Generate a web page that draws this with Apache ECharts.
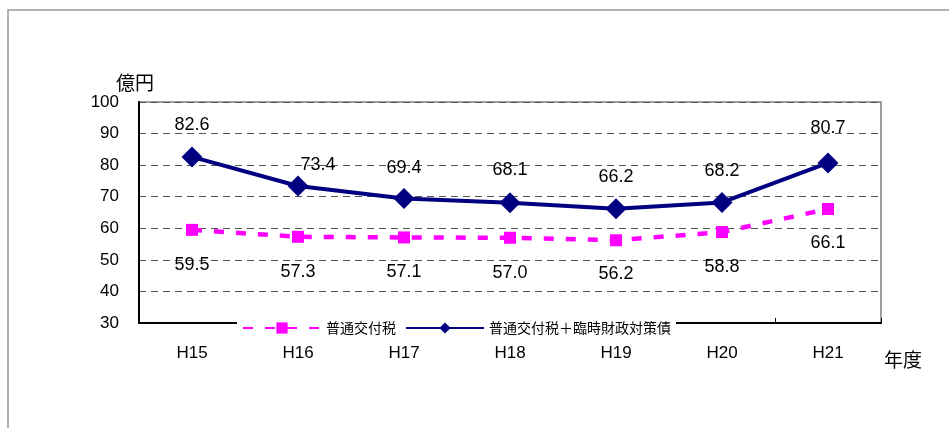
<!DOCTYPE html>
<html>
<head>
<meta charset="utf-8">
<script src="https://cdn.jsdelivr.net/npm/echarts@6/dist/echarts.min.js"></script>
<style>
html,body{margin:0;padding:0;background:#fff;}
#c{width:949px;height:428px;}
</style>
</head>
<body>
<div id="c"></div>
<script>
var categories = ['H15','H16','H17','H18','H19','H20','H21'];
var futsuu = [59.5, 57.3, 57.1, 57.0, 56.2, 58.8, 66.1];
var total = [82.6, 73.4, 69.4, 68.1, 66.2, 68.2, 80.7];
var seriesNames = ['普通交付税', '普通交付税＋臨時財政対策債'];
var yTicks = [30, 40, 50, 60, 70, 80, 90, 100];

var numFont = '"Liberation Sans", Arial, sans-serif';
var cjkFont = '"Noto Sans CJK JP", sans-serif';

// per-point label offsets (label placement only)
var totalOffsets = [[0,-32],[20,-21],[0,-31],[0,-33],[0,-32],[0,-31],[0,-35]];
var futsuuOffsets = [[0,35],[0,35],[0,35],[0,35],[0,34],[0,35],[0,34]];

var chart = echarts.init(document.getElementById('c'));
chart.setOption({
  animation: false,
  backgroundColor: '#fff',
  grid: {left: 139, right: 68, top: 102, bottom: 105, show: true, borderColor: '#808080', borderWidth: 1.5},
  graphic: [
    {type: 'rect', shape: {x: 8, y: 10, width: 1100, height: 600}, style: {fill: 'none', stroke: '#999', lineWidth: 1.5}, silent: true},
    {type: 'text', left: 116, top: 73, style: {text: '億円', font: '19px ' + cjkFont, fill: '#000'}},
    {type: 'text', left: 884, top: 350, style: {text: '年度', font: '19px ' + cjkFont, fill: '#000'}}
  ],
  legend: {
    left: 237, top: 318,
    padding: [3, 5],
    itemWidth: 78, itemHeight: 14, itemGap: 9,
    backgroundColor: '#fff',
    textStyle: {fontFamily: cjkFont, fontSize: 14, color: '#000'},
    data: seriesNames
  },
  xAxis: {
    type: 'category',
    data: categories,
    boundaryGap: true,
    axisLine: {lineStyle: {color: '#000', width: 2}},
    axisTick: {show: true, inside: true, length: 5, lineStyle: {color: '#000'}},
    axisLabel: {margin: 22, fontFamily: numFont, fontSize: 17, color: '#000'}
  },
  yAxis: {
    type: 'value',
    min: yTicks[0], max: yTicks[yTicks.length - 1], interval: 10,
    axisLine: {show: true, lineStyle: {color: '#000', width: 2}},
    axisTick: {show: false},
    axisLabel: {margin: 20, fontFamily: numFont, fontSize: 17, color: '#000'},
    splitLine: {show: true, lineStyle: {color: '#555', type: [7, 5], width: 1}}
  },
  series: [
    {
      name: seriesNames[0],
      type: 'line',
      data: futsuu.map(function (v, i) {
        return {value: v, label: {offset: futsuuOffsets[i]}};
      }),
      symbol: 'rect', symbolSize: 12,
      itemStyle: {color: '#ff00ff'},
      lineStyle: {color: '#ff00ff', width: 4.5, type: [10, 12]},
      label: {show: true, position: 'inside', color: '#000', fontFamily: numFont, fontSize: 18,
        formatter: function (p) { return p.value.toFixed(1); }},
      z: 3
    },
    {
      name: seriesNames[1],
      type: 'line',
      data: total.map(function (v, i) {
        return {value: v, label: {offset: totalOffsets[i]}};
      }),
      symbol: 'diamond', symbolSize: 21,
      itemStyle: {color: '#000080'},
      lineStyle: {color: '#000080', width: 4},
      label: {show: true, position: 'inside', color: '#000', fontFamily: numFont, fontSize: 18,
        formatter: function (p) { return p.value.toFixed(1); }},
      z: 4
    }
  ]
});
</script>
</body>
</html>
